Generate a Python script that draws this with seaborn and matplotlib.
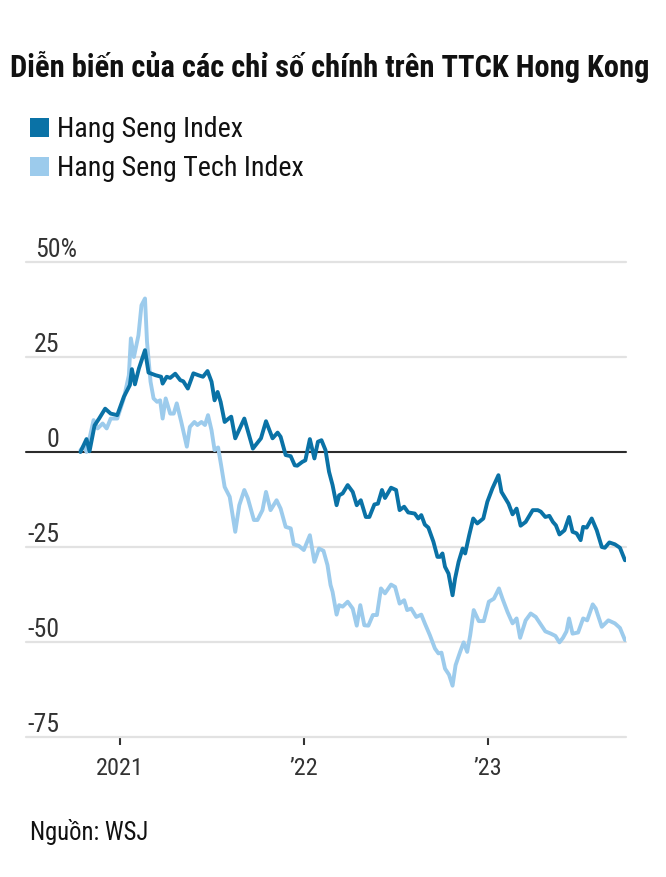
import numpy as np
import pandas as pd
import matplotlib
matplotlib.use("Agg")
import matplotlib.pyplot as plt
import matplotlib.transforms as mtransforms
from matplotlib import font_manager
from matplotlib.patches import Rectangle
import seaborn as sns

# ---------------- data ----------------
title = "Diễn biến của các chỉ số chính trên TTCK Hong Kong"
series_names = ["Hang Seng Index", "Hang Seng Tech Index"]
series_colors = ["#0a72a6", "#9ccbec"]
source = "Nguồn: WSJ"
y_ticks = [50, 25, 0, -25, -50, -75]
y_tick_labels = ["50%", "25", "0", "-25", "-50", "-75"]
x_ticks = ["2021-01-01", "2022-01-01", "2023-01-01"]
x_tick_labels = ["2021", "\u201922", "\u201923"]

hsi_dates = [
    "2020-10-15", "2020-10-27", "2020-11-02", "2020-11-12", "2020-11-21", "2020-12-03", "2020-12-14", "2020-12-27",
    "2021-01-09", "2021-01-21", "2021-01-25", "2021-01-31", "2021-02-08", "2021-02-20", "2021-02-27", "2021-03-13",
    "2021-03-24", "2021-03-27", "2021-04-04", "2021-04-11", "2021-04-21", "2021-05-01", "2021-05-07", "2021-05-16",
    "2021-05-27", "2021-06-06", "2021-06-15", "2021-06-24", "2021-07-02", "2021-07-08", "2021-07-14", "2021-07-20",
    "2021-07-28", "2021-08-05", "2021-08-10", "2021-08-18", "2021-09-05", "2021-09-22", "2021-10-08", "2021-10-18",
    "2021-10-31", "2021-11-10", "2021-11-16", "2021-11-26", "2021-12-06", "2021-12-14", "2021-12-19", "2021-12-29",
    "2022-01-04", "2022-01-13", "2022-01-22", "2022-01-29", "2022-02-05", "2022-02-13", "2022-02-20", "2022-02-27",
    "2022-03-07", "2022-03-12", "2022-03-19", "2022-03-29", "2022-04-08", "2022-04-16", "2022-04-24", "2022-05-04",
    "2022-05-11", "2022-05-21", "2022-05-28", "2022-06-05", "2022-06-11", "2022-06-23", "2022-07-03", "2022-07-10",
    "2022-07-19", "2022-07-27", "2022-08-09", "2022-08-16", "2022-08-22", "2022-08-29", "2022-09-05", "2022-09-15",
    "2022-09-23", "2022-09-28", "2022-10-03", "2022-10-08", "2022-10-15", "2022-10-23", "2022-10-28", "2022-11-04",
    "2022-11-12", "2022-11-17", "2022-11-25", "2022-12-03", "2022-12-11", "2022-12-23", "2022-12-31",
    "2023-01-10", "2023-01-22", "2023-01-28", "2023-02-11", "2023-02-19", "2023-02-27", "2023-03-07", "2023-03-17",
    "2023-03-31", "2023-04-10", "2023-04-16", "2023-04-25", "2023-05-03", "2023-05-10", "2023-05-16", "2023-05-23",
    "2023-06-02", "2023-06-11", "2023-06-18", "2023-06-26", "2023-07-04", "2023-07-09", "2023-07-16", "2023-07-26",
    "2023-08-05", "2023-08-15", "2023-08-21", "2023-08-30", "2023-09-10", "2023-09-20", "2023-09-30",
]
hsi_values = [
    0, 3.4, 0.2, 7, 8.8, 11.4, 10.1, 9.7,
    14.5, 17.6, 21.8, 17.8, 22, 26.8, 20.9, 20.2,
    19.8, 18, 19.8, 19.5, 20.6, 18.9, 18.6, 16.7,
    20.7, 20.2, 19.8, 21.3, 18.5, 13.6, 15.8, 13.2,
    7.9, 8.8, 9.3, 3.6, 8.8, 0.9, 3.6, 8.1,
    3.6, 5.1, 4, -0.8, -1.1, -3.5, -3.6, -2.6,
    -2.2, 3.4, -1.7, 2.7, 3.1, 0.5, -5.2, -8.7,
    -14, -11.4, -10.9, -8.7, -10.5, -14, -12.7, -17.1,
    -17.1, -13.8, -13.6, -10, -12.1, -9.4, -10, -15.3,
    -14.4, -15.9, -16.2, -17.5, -16.6, -19.1, -19.9, -23.6,
    -27.6, -27.6, -26.7, -30.2, -32, -37.7, -33.3, -28.9,
    -25.4, -26.7, -21.9, -17.5, -18.8, -17.5, -13.1,
    -9.6, -6.1, -10.5, -13.6, -16.4, -14.9, -19.4, -18.4,
    -15.3, -15.3, -15.7, -17.1, -16.8, -18.4, -19.3, -21.7,
    -20.6, -17.1, -21, -21.4, -23.2, -19.7, -19.9, -17.5,
    -20.6, -25, -25.2, -23.8, -24.3, -25.2, -28.5,
]

hstech_dates = [
    "2020-10-15", "2020-10-23", "2020-10-27", "2020-11-10", "2020-11-18", "2020-11-28", "2020-12-06", "2020-12-14",
    "2020-12-27",
    "2021-01-09", "2021-01-19", "2021-01-23", "2021-01-29", "2021-02-07", "2021-02-13", "2021-02-20", "2021-02-24",
    "2021-03-03", "2021-03-09", "2021-03-16", "2021-03-22", "2021-03-27", "2021-04-02", "2021-04-11", "2021-04-18",
    "2021-04-24", "2021-05-03", "2021-05-14", "2021-05-20", "2021-05-29", "2021-06-04", "2021-06-12", "2021-06-19",
    "2021-06-25", "2021-07-02", "2021-07-08", "2021-07-15", "2021-07-21", "2021-07-28", "2021-08-07", "2021-08-18",
    "2021-08-26", "2021-09-05", "2021-09-12", "2021-09-24", "2021-10-01", "2021-10-11", "2021-10-18", "2021-10-27",
    "2021-11-08", "2021-11-16", "2021-11-26", "2021-12-06", "2021-12-12", "2021-12-22",
    "2022-01-01", "2022-01-13", "2022-01-22", "2022-01-31", "2022-02-09", "2022-02-17", "2022-02-23", "2022-02-27",
    "2022-03-07", "2022-03-12", "2022-03-19", "2022-03-29", "2022-04-08", "2022-04-16", "2022-04-23", "2022-05-01",
    "2022-05-09", "2022-05-18", "2022-05-26", "2022-06-03", "2022-06-11", "2022-06-23", "2022-07-01", "2022-07-10",
    "2022-07-19", "2022-07-25", "2022-08-02", "2022-08-12", "2022-08-22", "2022-08-29", "2022-09-08", "2022-09-18",
    "2022-09-25", "2022-10-01", "2022-10-08", "2022-10-16", "2022-10-23", "2022-10-29", "2022-11-07", "2022-11-14",
    "2022-11-21", "2022-11-27", "2022-12-04", "2022-12-14", "2022-12-24",
    "2023-01-03", "2023-01-13", "2023-01-23", "2023-01-30", "2023-02-09", "2023-02-19", "2023-02-27", "2023-03-06",
    "2023-03-17", "2023-03-27", "2023-04-06", "2023-04-16", "2023-04-25", "2023-05-06", "2023-05-15", "2023-05-23",
    "2023-05-30", "2023-06-06", "2023-06-11", "2023-06-18", "2023-06-29", "2023-07-09", "2023-07-17", "2023-07-28",
    "2023-08-03", "2023-08-15", "2023-08-28", "2023-09-10", "2023-09-20", "2023-09-30",
]
hstech_values = [
    0.5, 1.8, 0, 8.4, 6.2, 7.5, 6.2, 8.8,
    8.8,
    14.1, 20.2, 29.9, 25, 30.7, 38.6, 40.4, 29,
    18.5, 14.1, 13.2, 13.6, 8.8, 14.1, 10.1, 10.1,
    12.8, 7.9, 1.4, 6.6, 7.9, 7.1, 7.9, 7.1,
    9.7, 5.7, 0.5, 1.2, -3.5, -9.2, -11.8, -21,
    -14, -10, -12.2, -17.9, -17.9, -15.3, -10.5, -15.3,
    -12.7, -14.9, -19.7, -20.1, -24.3, -24.7,
    -25.8, -21.9, -28.9, -25.4, -26, -29.8, -35, -36.8,
    -42.8, -40.3, -40.7, -39.4, -41.2, -45.7, -40.3, -45.6,
    -45.7, -42.9, -42.9, -35.9, -37.2, -34.9, -35.5, -39.9,
    -39, -41.6, -41.2, -43.4, -42.8, -45.1, -48.2, -51.7,
    -53, -52.8, -57, -58.6, -61.5, -56.1, -52.6, -50.1,
    -52.6, -48.2, -41.6, -44.5, -44.5,
    -39.4, -38.6, -35.9, -38.6, -42.1, -45.1, -43.8, -48.9,
    -44.3, -42.5, -43.4, -45.4, -47.2, -47.8, -48.4, -50.1,
    -48.9, -47.2, -43.8, -47.8, -47.5, -43.8, -44.3, -40.1,
    -41.2, -46, -44.3, -45.1, -46.3, -49.5,
]

# ---------------- style ----------------
sns.set_theme(style="white")
available = {f.name for f in font_manager.fontManager.ttflist}
FONT = "DejaVu Sans"
for cand in ["Liberation Sans Narrow", "Roboto Condensed", "Open Sans Condensed", "Liberation Sans"]:
    if cand in available:
        FONT = cand
        break
plt.rcParams["font.family"] = [FONT, "DejaVu Sans"]

W, H = 666, 878
fig = plt.figure(figsize=(W / 100, H / 100), dpi=100)
fig.patch.set_facecolor("white")
renderer = fig.canvas.get_renderer()


def fx(x):
    return x / W


def fy(y):
    return 1 - y / H


def fit(txt, target_px, weight="normal", base=20.0):
    t = fig.text(0, 0, txt, fontsize=base, fontweight=weight)
    w = t.get_window_extent(renderer).width
    t.remove()
    return base * target_px / w


# axes: x from 26 to 626 px, y from 263 (50) to 738 (-75)
ax = fig.add_axes([fx(26), fy(738), (626 - 26) / W, (738 - 263) / H])
ax.set_facecolor("white")

df = pd.concat([
    pd.DataFrame({"date": pd.to_datetime(hsi_dates), "value": hsi_values, "series": series_names[0]}),
    pd.DataFrame({"date": pd.to_datetime(hstech_dates), "value": hstech_values, "series": series_names[1]}),
], ignore_index=True)

palette = dict(zip(series_names, series_colors))
sns.lineplot(data=df, x="date", y="value", hue="series",
             hue_order=[series_names[1], series_names[0]], palette=palette,
             estimator=None, linewidth=2.8, legend=False, ax=ax, zorder=3,
             solid_joinstyle="round", solid_capstyle="round")

ax.set_ylim(-75, 50)
ax.set_xlim(pd.Timestamp("2020-06-29"), pd.Timestamp("2023-10-02"))
for s in ax.spines.values():
    s.set_visible(False)

for v in y_ticks:
    if v == 0:
        ax.axhline(v, color="#2b2b2b", lw=1.5, zorder=2, clip_on=False)
    else:
        ax.axhline(v, color="#e2e2e2", lw=1.6, zorder=1, clip_on=False)

ax.set_yticks([])
ax.set_ylabel("")
ax.set_xlabel("")

tick_fs = fit("2021", 48)
ax.set_xticks(pd.to_datetime(x_ticks))
ax.set_xticklabels(x_tick_labels, fontsize=tick_fs, color="#333333")
ax.tick_params(axis="x", direction="out", length=6, width=1.5, color="#333333", pad=8, bottom=True)

# y labels above gridlines
ylab_fs = fit("-25", 32)
trans = mtransforms.blended_transform_factory(fig.transFigure, ax.transData)
for v, lab in zip(y_ticks, y_tick_labels):
    if lab.endswith("%"):
        ax.text(fx(35), v + 1.7, lab, transform=trans, ha="left", va="baseline",
                fontsize=ylab_fs, color="#333333")
    else:
        ax.text(fx(59), v + 1.7, lab, transform=trans, ha="right", va="baseline",
                fontsize=ylab_fs, color="#333333")

# title
title_fs = fit(title, 640, weight="bold")
fig.text(fx(10), fy(77), title, fontsize=title_fs, fontweight="bold",
         color="#111111", ha="left", va="baseline")

# legend
leg_fs = fit(series_names[0], 186)
for i, (name, col) in enumerate(zip(series_names, series_colors)):
    top = 119 + i * 39
    fig.patches.append(Rectangle((fx(30), fy(top + 19)), 19 / W, 19 / H,
                                 transform=fig.transFigure, facecolor=col, edgecolor="none"))
    fig.text(fx(57), fy(top + 18), name, fontsize=leg_fs, color="#111111",
             ha="left", va="baseline")

# source
src_fs = fit(source, 118)
fig.text(fx(30), fy(840), source, fontsize=src_fs, color="#111111", ha="left", va="baseline")

fig.savefig("out.png", dpi=100, facecolor="white")
